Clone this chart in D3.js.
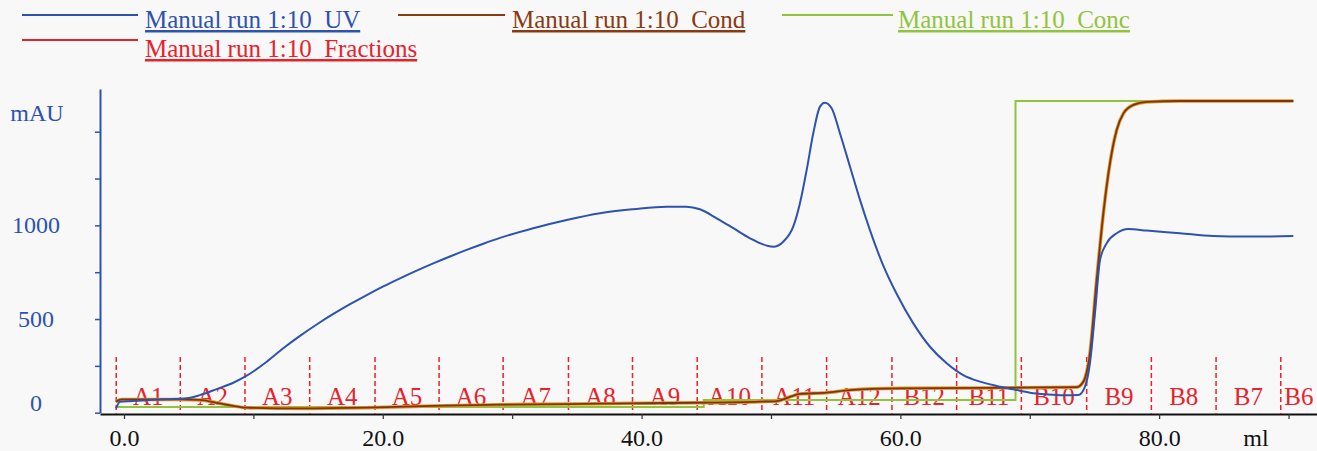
<!DOCTYPE html>
<html>
<head>
  <meta charset="utf-8">
  <title>Manual run 1:10</title>
  <style>
    body { margin: 0; background: #f8f8f9; }
    svg { display: block; font-family: "Liberation Serif", "Times New Roman", serif; }
  </style>
  <script src="https://d3js.org/d3.v7.min.js"></script>
</head>
<body>
<svg width="1317" height="451"></svg>
<script>
"use strict";

// UV trace (ml, mAU)
var uvMl  = [-0.62, -0.31, 0.72, 2.01, 3.30, 4.85, 5.87, 7.16, 8.45, 9.35, 11.03, 12.31, 13.6, 14.89, 16.18, 17.47,
             18.76, 20.04, 21.33, 22.62, 23.90, 25.19, 26.48, 27.77, 29.06, 31.63, 34.21, 36.79, 39.36, 41.94,
             43.48, 44.51, 45.80, 47.09, 48.38, 49.67, 50.18, 50.95, 51.72, 52.24, 52.76, 53.27, 53.79, 54.17,
             54.69, 55.33, 56.11, 56.88, 57.65, 58.68, 59.71, 61.00, 62.29, 63.58, 64.86, 66.15, 67.44, 68.73,
             70.02, 71.30, 72.59, 73.75, 74.27, 74.65, 75.04, 75.43, 75.94, 76.72, 77.62, 79.03, 81.61, 84.18,
             86.76, 90.37];
var uvMau = [23, 59, 62, 68, 72, 77, 94, 126, 160, 192, 272, 344, 410, 471, 527, 579,
             628, 674, 717, 758, 797, 834, 869, 902, 933, 985, 1029, 1065, 1086, 1100,
             1100, 1086, 1038, 985, 931, 892, 886, 913, 993, 1118, 1296, 1492, 1634, 1655,
             1625, 1492, 1313, 1136, 975, 785, 635, 477, 352, 264, 201, 166, 143, 125,
             107, 98, 93, 94, 139, 264, 531, 815, 904, 958, 981, 972, 958, 943,
             940, 943];

// conductivity trace (plotted on the mAU scale)
var condMl  = [-0.62, -0.18, 4.33, 5.87, 7.16, 8.45, 9.48, 13.6, 18.76, 23.88, 29.06, 34.21, 39.34, 44.27, 49.15,
               50.44, 51.47, 52.24, 54.30, 56.11, 59.97, 67.7, 73.62, 74.14, 74.65, 75.17, 75.69, 76.20, 76.72,
               77.24, 78.01, 79.03, 81.61, 90.37];
var condVal = [59, 71, 71, 68, 53, 36, 27, 23, 27, 36, 43, 46, 50, 53, 59,
               62, 85, 100, 107, 121, 130, 133, 136, 165, 317, 708, 1065, 1332, 1509,
               1598, 1643, 1659, 1664, 1664];

// concentration steps
var concMl  = [-0.62, 44.8, 68.9, 90.37];
var concVal = [30, 68, 1664, 1664];

// fractions
var fracPos = [-0.6, 4.35, 9.35, 14.35, 19.4, 24.35, 29.3, 34.35, 39.3, 44.3, 49.3, 54.3, 59.35, 64.35, 69.35,
               74.4, 79.4, 84.4, 89.4];
var fracLabels = ["A1", "A2", "A3", "A4", "A5", "A6", "A7", "A8", "A9", "A10", "A11", "A12",
                  "B12", "B11", "B10", "B9", "B8", "B7", "B6"];

var yTicks = [0, 250, 500, 750, 1000, 1250, 1500];
var yLabels = [0, 500, 1000];
var xTicks = [0, 10, 20, 30, 40, 50, 60, 70, 80, 90];
var xLabels = [0, 20, 40, 60, 80];

var legendNames = ["Manual run 1:10_UV", "Manual run 1:10_Cond", "Manual run 1:10_Conc", "Manual run 1:10_Fractions"];

var blue = "#2f52ad", brown = "#7e3410", green = "#90c43c", red = "#e8222b";

var svg = d3.select("svg");

var x = d3.scaleLinear().domain([-1.855, 92.2]).range([100, 1317]);
var y = d3.scaleLinear().domain([0, 1728]).range([412.7, 89]);

// y axis
var yAxis = svg.append("g")
    .attr("transform", "translate(100,0)")
    .call(d3.axisLeft(y).tickValues(yTicks).tickSize(5).tickSizeOuter(0).tickFormat(""));
yAxis.select(".domain").attr("stroke", blue).attr("stroke-width", 2);
yAxis.selectAll(".tick line").attr("stroke", blue).attr("stroke-width", 1.5);

svg.selectAll(".ylab")
  .data(yLabels)
  .enter().append("text")
    .attr("class", "ylab")
    .attr("x", 36)
    .attr("y", function(d) { return y(d) + (d === 0 ? -2 : 8); })
    .attr("text-anchor", "middle")
    .attr("fill", blue)
    .style("font-size", "24px")
    .text(function(d) { return d; });

svg.append("text")
    .attr("x", 37)
    .attr("y", y(1500) - 11)
    .attr("text-anchor", "middle")
    .attr("fill", blue)
    .style("font-size", "24px")
    .text("mAU");

// x axis
var xAxis = svg.append("g")
    .attr("transform", "translate(0,414)")
    .call(d3.axisBottom(x).tickValues(xTicks).tickSize(5).tickSizeOuter(0).tickPadding(10)
      .tickFormat(function(d) { return xLabels.indexOf(d) >= 0 ? d3.format(".1f")(d) : ""; }));
xAxis.select(".domain").attr("stroke", "#111").attr("stroke-width", 2);
xAxis.selectAll(".tick line").attr("stroke", "#333").attr("stroke-width", 1.2);
xAxis.selectAll(".tick text")
    .attr("fill", "#111")
    .style("font-size", "24px")
    .style("font-family", "'Liberation Serif', serif");

svg.append("text")
    .attr("x", 1256)
    .attr("y", 446)
    .attr("text-anchor", "middle")
    .attr("fill", "#111")
    .style("font-size", "24px")
    .text("ml");

// fractions
svg.selectAll(".frac")
  .data(fracPos)
  .enter().append("line")
    .attr("class", "frac")
    .attr("x1", function(d) { return x(d); })
    .attr("x2", function(d) { return x(d); })
    .attr("y1", 357)
    .attr("y2", 414)
    .attr("stroke", red)
    .attr("stroke-width", 1.5)
    .attr("stroke-dasharray", "5,3");

svg.selectAll(".fraclab")
  .data(fracLabels)
  .enter().append("text")
    .attr("class", "fraclab")
    .attr("x", function(d, i) {
      var end = i + 1 < fracPos.length ? fracPos[i + 1] : x.domain()[1];
      return x((fracPos[i] + end) / 2);
    })
    .attr("y", 405)
    .attr("text-anchor", "middle")
    .attr("fill", red)
    .style("font-size", "25px")
    .text(function(d) { return d; });

// traces
var line = d3.line()
    .x(function(d) { return x(d[0]); })
    .y(function(d) { return y(d[1]); })
    .curve(d3.curveMonotoneX);

var concLine = d3.line()
    .x(function(d) { return x(d[0]); })
    .y(function(d) { return y(d[1]); })
    .curve(d3.curveStepAfter);

svg.append("path")
    .datum(d3.zip(concMl, concVal))
    .attr("fill", "none")
    .attr("stroke", green)
    .attr("stroke-width", 2)
    .attr("d", concLine);

// cond has an orange rim in the printout
svg.append("path")
    .datum(d3.zip(condMl, condVal))
    .attr("fill", "none")
    .attr("stroke", "#e09a2a")
    .attr("stroke-width", 3.5)
    .attr("d", line);

svg.append("path")
    .datum(d3.zip(condMl, condVal))
    .attr("fill", "none")
    .attr("stroke", brown)
    .attr("stroke-width", 1.8)
    .attr("d", line);

svg.append("path")
    .datum(d3.zip(uvMl, uvMau))
    .attr("fill", "none")
    .attr("stroke", blue)
    .attr("stroke-width", 2)
    .attr("d", line);

// legend
var legendItems = [
  {name: legendNames[0], color: blue,    x1: 22,  x2: 138, ly: 15, tx: 145, ty: 28},
  {name: legendNames[1], color: "#8a3a12", x1: 398, x2: 505, ly: 15, tx: 512, ty: 28},
  {name: legendNames[2], color: green,   x1: 782, x2: 893, ly: 15, tx: 898, ty: 28},
  {name: legendNames[3], color: red,     x1: 22,  x2: 138, ly: 40, tx: 145, ty: 57}
];

var legend = svg.selectAll(".legend")
  .data(legendItems)
  .enter().append("g")
    .attr("class", "legend");

legend.append("line")
    .attr("x1", function(d) { return d.x1; })
    .attr("x2", function(d) { return d.x2; })
    .attr("y1", function(d) { return d.ly; })
    .attr("y2", function(d) { return d.ly; })
    .attr("stroke", function(d) { return d.color; })
    .attr("stroke-width", 2);

legend.append("text")
    .attr("x", function(d) { return d.tx; })
    .attr("y", function(d) { return d.ty; })
    .attr("fill", function(d) { return d.color; })
    .style("font-size", "25px")
    .style("text-decoration", "underline")
    .text(function(d) { return d.name; });
</script>
</body>
</html>
